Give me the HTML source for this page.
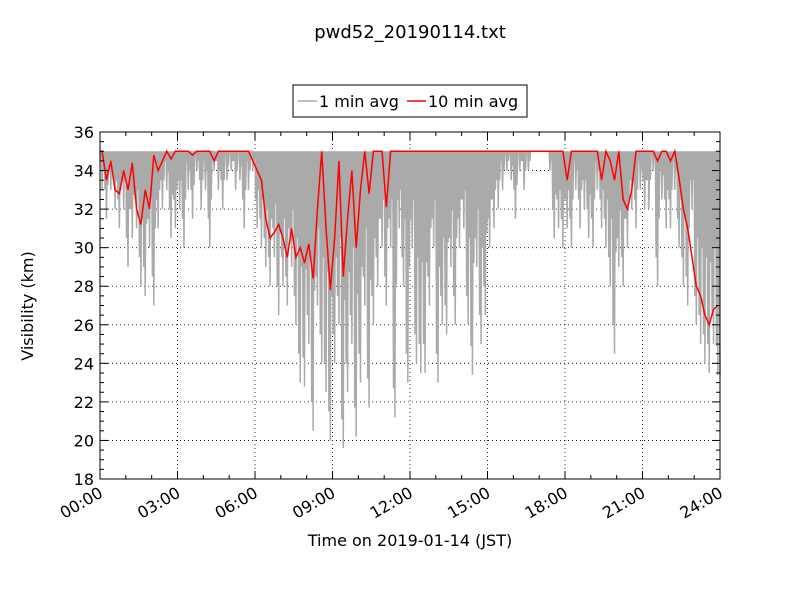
<!DOCTYPE html>
<html><head><meta charset="utf-8"><style>
body{margin:0;background:#fff;}
svg{display:block;font-family:"DejaVu Sans","Liberation Sans",sans-serif;}
</style></head><body>
<svg id="chart" width="800" height="600">
<rect width="800" height="600" fill="#fff"/>
<text x="410" y="38" font-size="18" text-anchor="middle">pwd52_20190114.txt</text>
<g id="grid"></g>
<g id="series"></g>
<rect x="100" y="132" width="620" height="347" fill="none" stroke="#000"/>
<g id="axes"></g>
<text x="410" y="546" font-size="16" text-anchor="middle">Time on 2019-01-14 (JST)</text>
<text transform="translate(33,306) rotate(-90)" font-size="16" text-anchor="middle">Visibility (km)</text>
<g>
<rect x="293" y="85" width="234" height="32" fill="#fff" stroke="#000"/>
<line x1="298" y1="101" x2="317" y2="101" stroke="#aaa" stroke-width="1.5"/>
<text x="319" y="107" font-size="16">1 min avg</text>
<line x1="407" y1="101" x2="426" y2="101" stroke="#f00" stroke-width="1.5"/>
<text x="428" y="107" font-size="16">10 min avg</text>
</g>
</svg>
<script>
const xTickLabels=["00:00","03:00","06:00","09:00","12:00","15:00","18:00","21:00","24:00"];
const yTickLabels=[18,20,22,24,26,28,30,32,34,36];
const baseline=35;
// minimum 1-min value in each 10-minute window (144 windows)
const grayMin=[33,31.5,33,32,31,32, 29,30.5,31,28,27.5,30, 27,31,32,33,30.5,31, 32,30,33,31.5,34,32,
33,30,34,33,32,33.5, 34,33,33.5,31,33,34, 31,30,29,28,29.5,26.5, 28,27,29,26,23,22.8,
25,20.5,27,24,22.5,20, 24,26,19.6,22.5,25,20.2, 23,27,21.7,26,28,30, 27,30,21.2,31,28,23,
30,24,23.5,23.5,27,30, 23,26,25.5,29,26,30, 31,26,23.4,29,25,26.5, 30,31,32,33,34,33.5,
31.5,34,33,34,35,35, 35,35,34,30.5,31,30, 31,30,33,31,32,30.5, 30,33,31,30,28,24.5,
29,28,30,32,31,33, 32,32,34,28,32.5,31, 31,33,30,28,27,32, 26,25,24,23.5,25,23.4];
// 10-minute average values
const redAvg=[35,33.5,34.5,33,32.8,34, 33,34.4,32,31.2,33,32, 34.8,34,34.5,35,34.6,35, 35,35,35,34.8,35,35,
35,35,34.5,35,35,35, 35,35,35,35,35,34.5, 34,33.5,31.5,30.5,30.8,31.2, 30.5,29.5,31,29.5,30,29.2,
30.2,28.4,32,35,31,27.8, 30.5,34.5,28.5,31.5,34,30, 33,35,32.8,35,35,35, 32.1,35,35,35,35,35,
35,35,35,35,35,35, 35,35,35,35,35,35, 35,35,35,35,35,35, 35,35,35,35,35,35,
35,35,35,35,35,35, 35,35,35,35,35,35, 33.5,35,35,35,35,35, 35,35,33.5,35,34.5,33.5,
35,32.5,32,33,35,35, 35,35,35,34.5,35,35, 34.5,35,33.6,32,31,29.5, 28,27.5,26.5,26,26.8,27];

const X0=100,X1=720,Y0=479,Y1=132;
const xs=h=>X0+(X1-X0)*h/24;
const ys=v=>Y0-(Y0-Y1)*(v-18)/18;
const NS="http://www.w3.org/2000/svg";
function mk(tag,attrs,parent){const e=document.createElementNS(NS,tag);for(const k in attrs)e.setAttribute(k,attrs[k]);parent.appendChild(e);return e;}
const grid=document.getElementById('grid'),axes=document.getElementById('axes'),series=document.getElementById('series');

xTickLabels.forEach((lab,i)=>{
  const x=xs(i*3);
  if(i>0&&i<8){const g=mk('line',{x1:x,x2:x,y1:Y1,y2:Y0,stroke:'#000','stroke-dasharray':'1,3','stroke-width':0.8},grid);
  
  }
  mk('line',{x1:x,x2:x,y1:Y0,y2:Y0-8,stroke:'#000'},axes);
  mk('line',{x1:x,x2:x,y1:Y1,y2:Y1+8,stroke:'#000'},axes);
  const t=mk('text',{x:x+4,y:Y0+17,'font-size':16,'text-anchor':'end',transform:`rotate(-30 ${x+4} ${Y0+17})`},axes);
  
  
  t.textContent=lab;
});
for(let h=0;h<=24;h++){if(h%3===0)continue;const x=xs(h);
  mk('line',{x1:x,x2:x,y1:Y0,y2:Y0-4,stroke:'#000'},axes);
  mk('line',{x1:x,x2:x,y1:Y1,y2:Y1+4,stroke:'#000'},axes);}
yTickLabels.forEach(v=>{
  const y=ys(v);
  if(v>18&&v<36){const g=mk('line',{x1:X0,x2:X1,y1:y,y2:y,stroke:'#000','stroke-dasharray':'1,3','stroke-width':0.8},grid);
  
  }
  mk('line',{x1:X0,x2:X0+8,y1:y,y2:y,stroke:'#000'},axes);
  mk('line',{x1:X1,x2:X1-8,y1:y,y2:y,stroke:'#000'},axes);
  const t=mk('text',{x:X0-6,y:y+6,'font-size':16,'text-anchor':'end'},axes);
  
  
  t.textContent=v;
});
for(let v=18;v<=36;v+=0.5){if(v%2===0)continue;const y=ys(v);
  mk('line',{x1:X0,x2:X0+4,y1:y,y2:y,stroke:'#000'},axes);
  mk('line',{x1:X1,x2:X1-4,y1:y,y2:y,stroke:'#000'},axes);}

let gp=[];
grayMin.forEach((v,i)=>{
  const h=i/6, d=1/6;
  const depths=[Math.min(baseline,v+1.5),v,Math.min(baseline,(v+baseline)/2)];
  depths.forEach((dv,k)=>{
    gp.push([xs(h+d*k/3),ys(baseline)]);
    gp.push([xs(h+d*(k+0.5)/3),ys(dv)]);
  });
});
gp.push([xs(24),ys(grayMin[grayMin.length-1])]);
const gl=mk('polyline',{points:gp.map(p=>p.join(',')).join(' '),fill:'none',stroke:'#aaa','stroke-width':1.5},series);



const rp=redAvg.map((v,i)=>[xs(i/6+1/12),ys(v)]);
rp.unshift([xs(0),ys(redAvg[0])]);
const rl=mk('polyline',{points:rp.map(p=>p.join(',')).join(' '),fill:'none',stroke:'#f00','stroke-width':1.5},series);


</script>
</body></html>
